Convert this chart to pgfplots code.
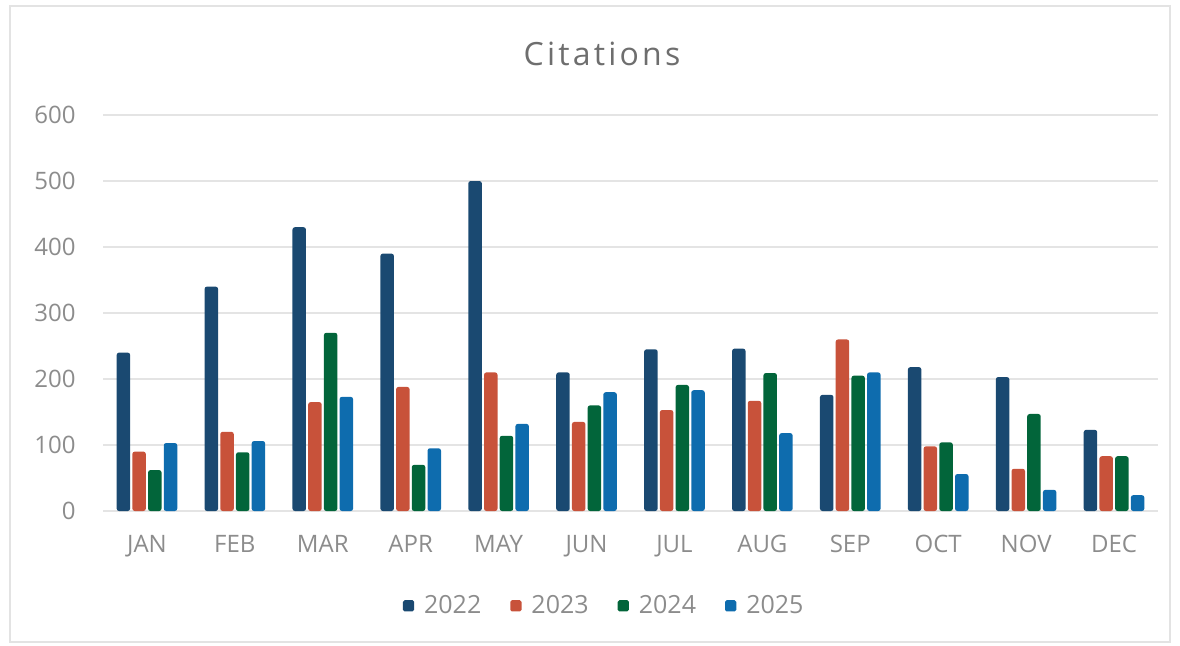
\documentclass[border=0pt]{standalone}
\usepackage{pgfplots}
\pgfplotsset{compat=1.18}
\usepackage{pgfplotstable}
\usepackage{fontspec}
\setmainfont{Open Sans}
\newfontfamily\titlefont[LetterSpace=10]{Open Sans}
\definecolor{c22}{HTML}{1A4971}
\definecolor{c23}{HTML}{C8523A}
\definecolor{c24}{HTML}{02653A}
\definecolor{c25}{HTML}{0E6CAE}
\definecolor{tick}{HTML}{8C8C8C}
\definecolor{ttl}{HTML}{6E6E6E}
\definecolor{gridc}{HTML}{E4E4E4}

\pgfplotstableread{
x  y22 y23 y24 y25
0  240  90  62 103
1  340 120  89 106
2  430 165 270 173
3  390 188  70  95
4  500 210 114 132
5  210 135 160 180
6  245 153 191 183
7  246 167 209 118
8  176 260 205 210
9  218  98 104  56
10 203  64 147  32
11 123  83  83  24
}\data

\begin{document}
\begin{tikzpicture}
\path[use as bounding box] (-51.5pt,-67pt) rectangle (538.5pt,255.5pt);
\draw[gray!22,line width=1pt] (-46.5pt,-65.5pt) rectangle (533.5pt,252.5pt);
\begin{axis}[
  at={(0,0)}, anchor=south west,
  scale only axis, width=527.5pt, height=198pt,
  ybar=1.1pt, bar width=6.75pt,
  xmin=-0.5, xmax=11.5, ymin=0, ymax=600,
  axis line style={draw=none},
  xmajorgrids=false, ymajorgrids=true,
  major grid style={draw=gridc, line width=0.8pt},
  ytick={0,100,...,600},
  xtick={0,...,11},
  xticklabels={JAN,FEB,MAR,APR,MAY,JUN,JUL,AUG,SEP,OCT,NOV,DEC},
  major tick length=0pt, tick style={draw=none},
  /pgf/number format/assume math mode=true,
  ticklabel style={font=\fontsize{12pt}{14pt}\selectfont, text=tick},
  xticklabel style={anchor=north, inner sep=0pt, yshift=-12pt},
  yticklabel style={anchor=east, inner sep=0pt, xshift=-13.5pt},
  legend columns=-1,
  legend style={at={(0.476,-0.24)}, anchor=center, draw=none, fill=none,
    font=\fontsize{12.5pt}{14pt}\selectfont, text=tick,
    /tikz/every odd column/.append style={column sep=3pt},
    /tikz/every even column/.append style={column sep=12.5pt}},
  legend image code/.code={\draw[#1,draw=none,rounded corners=0.8pt] (0pt,-2.7pt) rectangle (5.6pt,2.9pt);},
  every axis plot/.append style={draw=none, rounded corners=1.2pt},
]
\addplot[fill=c22] table[x=x,y=y22] {\data};
\addplot[fill=c23] table[x=x,y=y23] {\data};
\addplot[fill=c24] table[x=x,y=y24] {\data};
\addplot[fill=c25] table[x=x,y=y25] {\data};
\legend{2022,2023,2024,2025}
\end{axis}
\node[text=ttl, font=\titlefont\fontsize{16pt}{19pt}\selectfont] at (249.5pt,228.5pt) {Citations};
\end{tikzpicture}
\end{document}
